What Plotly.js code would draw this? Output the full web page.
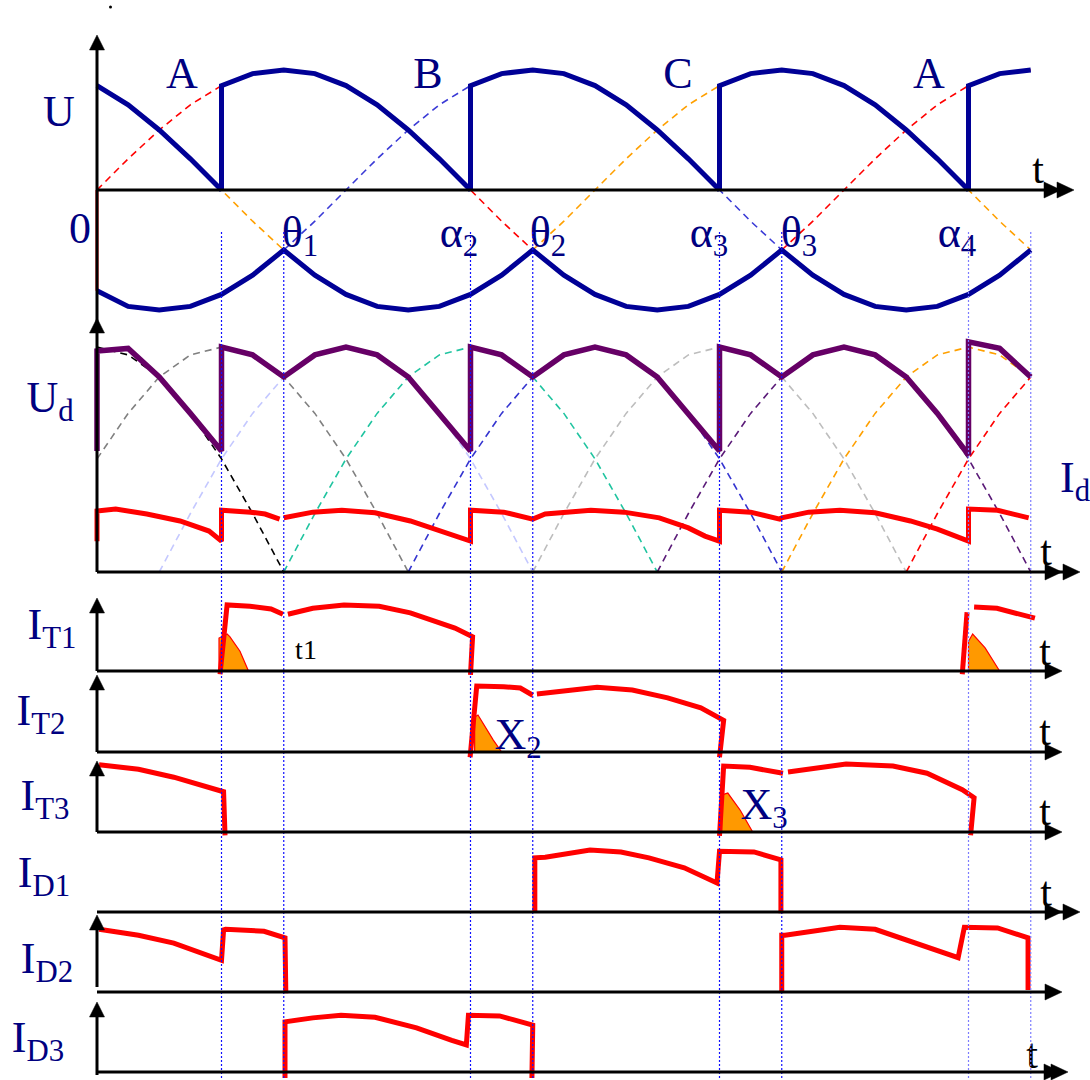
<!DOCTYPE html>
<html><head><meta charset="utf-8">
<script src="https://cdn.plot.ly/plotly-3.0.1.min.js"></script>
<style>html,body{margin:0;padding:0;background:#fff}#chart{width:1090px;height:1080px}</style>
</head><body><div id="chart"></div>
<script>
// ================= DATA (angle in electrical degrees) =================
// firing / natural-commutation instants marked by dotted guides
const eventDeg = [60, 90, 180, 210, 300, 330, 420, 450];
const eventLabels = ['', 'θ<sub>1</sub>', 'α<sub>2</sub>', 'θ<sub>2</sub>', 'α<sub>3</sub>', 'θ<sub>3</sub>', 'α<sub>4</sub>', ''];
const phaseLabels = ['A', 'B', 'C', 'A'];
const panelLabels = ['U', 'U<sub>d</sub>', 'I<sub>d</sub>', 'I<sub>T1</sub>', 'I<sub>T2</sub>', 'I<sub>T3</sub>', 'I<sub>D1</sub>', 'I<sub>D2</sub>', 'I<sub>D3</sub>'];

// ---- panel U : phase voltages (unit = phase peak) ----
const phaseADeg = [0,15,30,45,60,75,90,105,120,135,150,165,180,195,210,null,330,345,360,375,390,405,420,435,450];
const phaseAVal = [0,0.26,0.5,0.71,0.87,0.97,1,0.97,0.87,0.71,0.5,0.26,0,-0.26,-0.5,null,-0.5,-0.26,0,0.26,0.5,0.71,0.87,0.97,1];
const phaseBDeg = [90,105,120,135,150,165,180,195,210,225,240,255,270,285,300,315,330];
const phaseBVal = [-0.5,-0.26,0,0.26,0.5,0.71,0.87,0.97,1,0.97,0.87,0.71,0.5,0.26,0,-0.26,-0.5];
const phaseCDeg = [0,15,30,45,60,75,90,null,210,225,240,255,270,285,300,315,330,345,360,375,390,405,420,435,450];
const phaseCVal = [0.87,0.71,0.5,0.26,0,-0.26,-0.5,null,-0.5,-0.26,0,0.26,0.5,0.71,0.87,0.97,1,0.97,0.87,0.71,0.5,0.26,0,-0.26,-0.5];
const uTopDeg = [0,15,30,45,60,60,75,90,105,120,135,150,165,180,180,195,210,225,240,255,270,285,300,300,315,330,345,360,375,390,405,420,420,435,450];
const uTopVal = [0.87,0.71,0.5,0.26,0,0.87,0.97,1,0.97,0.87,0.71,0.5,0.26,0,0.87,0.97,1,0.97,0.87,0.71,0.5,0.26,0,0.87,0.97,1,0.97,0.87,0.71,0.5,0.26,0,0.87,0.97,1];
const uBotDeg = [0,15,30,45,60,75,90,105,120,135,150,165,180,195,210,225,240,255,270,285,300,315,330,345,360,375,390,405,420,435,450];
const uBotVal = [-0.84,-0.97,-1,-0.97,-0.87,-0.71,-0.5,-0.71,-0.87,-0.97,-1,-0.97,-0.87,-0.71,-0.5,-0.71,-0.87,-0.97,-1,-0.97,-0.87,-0.71,-0.5,-0.71,-0.87,-0.97,-1,-0.97,-0.87,-0.71,-0.5];
const startDeg = [0, 0];
const startVal = [0, -0.84];

// ---- panel Ud : line voltages and rectified output (unit = phase peak) ----
const udDeg = [0,0,15,30,45,60,60,75,90,105,120,135,150,165,180,180,195,210,225,240,255,270,285,300,300,315,330,345,360,375,390,405,420,420,435,450];
const udVal = [0.93,1.70,1.72,1.5,1.22,0.93,1.73,1.67,1.5,1.67,1.73,1.67,1.5,1.22,0.93,1.73,1.67,1.5,1.67,1.73,1.67,1.5,1.22,0.93,1.73,1.67,1.5,1.67,1.73,1.67,1.5,1.22,0.9,1.77,1.72,1.5];
const lineArcVal = [0,0.45,0.87,1.22,1.5,1.67,1.73,1.67,1.5,1.22,0.87,0.45,0];
const lineAB1Deg = [0,15,30,45,60,75,90,105,120,135,150];
const lineAB1Val = [0.87,1.22,1.5,1.67,1.73,1.67,1.5,1.22,0.87,0.45,0];
const lineCB1Deg = [0,15,30,45,60,75,90];
const lineCB1Val = [1.73,1.67,1.5,1.22,0.87,0.45,0];
const lineAC1Deg = [30,45,60,75,90,105,120,135,150,165,180,195,210];
const lineBCDeg  = [90,105,120,135,150,165,180,195,210,225,240,255,270];
const lineBADeg  = [150,165,180,195,210,225,240,255,270,285,300,315,330];
const lineCADeg  = [210,225,240,255,270,285,300,315,330,345,360,375,390];
const lineCB2Deg = [270,285,300,315,330,345,360,375,390,405,420,435,450];
const lineAB2Deg = [330,345,360,375,390,405,420,435,450];
const lineAB2Val = [0,0.45,0.87,1.22,1.5,1.67,1.73,1.67,1.5];
const lineAC2Deg = [390,405,420,435,450];
const lineAC2Val = [0,0.45,0.87,1.22,1.5];

// ---- load current Id (unit = its peak) ----
const idDeg = [0,0,9,24,40,54,60,60,74,81,88,null,90,104,118,134,151,168,180,180,196,210,216,238,254,271,285,293,300,300,315,329,330,343,358,375,392,405,414,420,420,434,449];
const idVal = [0.49,0.97,1.0,0.92,0.81,0.65,0.49,0.98,0.95,0.92,0.84,null,0.86,0.95,0.98,0.94,0.81,0.62,0.49,0.98,0.95,0.84,0.92,0.98,0.95,0.86,0.70,0.57,0.49,0.98,0.95,0.84,0.86,0.95,0.98,0.94,0.81,0.68,0.57,0.49,1.0,0.98,0.86];

// ---- device currents ----
const it1Deg = [59.3,62.7,73.7,83.9,89.6,null,92,104,119,136,151,166,172.5,181,180,null,417,419.3,null,422.7,433.7,452];
const it1Val = [-0.05,1.0,0.98,0.94,0.86,null,0.86,0.95,1.0,0.98,0.88,0.73,0.65,0.52,-0.06,null,-0.05,0.89,null,0.97,0.95,0.8];
const it1FillADeg = [58.8,58.8,62.7,64,68.9,73];
const it1FillAVal = [0,0.5,0.56,0.52,0.3,0];
const it1FillBDeg = [420,420,422,428,435];
const it1FillBVal = [0,0.45,0.56,0.35,0];
const it2Deg = [179.8,183,196,204,210,null,212,241,258,275,291,300,302,300];
const it2Val = [-0.08,1.0,0.99,0.97,0.86,null,0.88,0.98,0.94,0.82,0.67,0.53,0.48,-0.08];
const it2FillDeg = [182,182,183.6,191,195];
const it2FillVal = [0,0.53,0.56,0.18,0];
const it3Deg = [1,20,37,50.6,61,61.7,null,300,302,314.7,330.6,null,333,361,383.6,400,417,422.7,421];
const it3Val = [1.02,0.95,0.83,0.71,0.61,-0.05,null,-0.06,1.0,0.98,0.89,null,0.91,1.03,1.0,0.89,0.64,0.52,-0.05];
const it3FillDeg = [301,301,304,310,316];
const it3FillVal = [0,0.56,0.59,0.33,0];
const id1Deg = [211,211,216,237.6,252.5,266,283,293,298.8,300,300.7,316.6,329.6,329.6];
const id1Val = [0,0.82,0.83,0.94,0.91,0.82,0.67,0.53,0.44,0.92,0.92,0.91,0.79,-0.02];
const id2Deg = [1,20,37,60,61,62,80.5,90.6,91,null,330,330,331.6,358,375,400,415,418,419,434,448.7,448.7];
const id2Val = [0.95,0.86,0.74,0.48,0.94,0.95,0.92,0.82,-0.02,null,0,0.86,0.86,0.98,0.95,0.68,0.52,0.98,0.98,0.97,0.82,0.03];
const id3Deg = [90.6,90.6,104,117.6,134,154,171,178,179,181,194,210,209.6];
const id3Val = [-0.09,0.76,0.82,0.86,0.83,0.67,0.48,0.41,0.86,0.86,0.85,0.71,-0.09];

// ================= LAYOUT GEOMETRY =================
const W = 1090, H = 1080;
const X0 = 97, PXDEG = 2.075;           // x pixel of 0 deg, pixels per degree
const px = p => p / W, py = p => 1 - p / H;
// panel baselines (px) and pixels per unit
const scales = {
  y:  {base:190, ppu:120}, y2: {base:572, ppu:130}, y3: {base:572, ppu:63},
  y4: {base:671, ppu:66},  y5: {base:752, ppu:66},  y6: {base:832, ppu:66},
  y7: {base:912, ppu:66},  y8: {base:992, ppu:66},  y9: {base:1072, ppu:66}
};

const NAVY = '#000080', BLUE = '#000096', PURPLE = '#660066', RED = '#ff0000', ORANGE = '#ff9900';
const DASH = '7px,5px';
const FONT = 'Liberation Serif';

function tr(x, y, ax, color, width, dash) {
  return {type:'scatter', mode:'lines', x:x, y:y, xaxis:'x', yaxis:ax, connectgaps:false,
          hoverinfo:'skip', showlegend:false, line:{color:color, width:width, dash:dash||'solid'}};
}
function fillTr(x, y, ax) {
  return {type:'scatter', mode:'lines', x:x, y:y, xaxis:'x', yaxis:ax, fill:'toself',
          fillcolor:ORANGE, hoverinfo:'skip', showlegend:false, line:{color:RED, width:1.2}};
}

const traces = [
  // U panel
  tr(phaseADeg, phaseAVal, 'y', '#ff0000', 1.6, DASH),
  tr(phaseBDeg, phaseBVal, 'y', '#3a3ad6', 1.6, DASH),
  tr(phaseCDeg, phaseCVal, 'y', '#ffa000', 1.6, DASH),
  tr(startDeg, startVal, 'y', RED, 3),
  tr(uTopDeg, uTopVal, 'y', BLUE, 5),
  tr(uBotDeg, uBotVal, 'y', BLUE, 5),
  // Ud panel line voltages
  tr(lineAB1Deg, lineAB1Val, 'y2', '#808080', 1.6, DASH),
  tr(lineCB1Deg, lineCB1Val, 'y2', '#000000', 1.6, DASH),
  tr(lineAC1Deg, lineArcVal, 'y2', '#c4c8ff', 1.6, DASH),
  tr(lineBCDeg,  lineArcVal, 'y2', '#20c4a0', 1.6, DASH),
  tr(lineBADeg,  lineArcVal, 'y2', '#3434d0', 1.6, DASH),
  tr(lineCADeg,  lineArcVal, 'y2', '#bdbdbd', 1.6, DASH),
  tr(lineCB2Deg, lineArcVal, 'y2', '#5a1a78', 1.6, DASH),
  tr(lineAB2Deg, lineAB2Val, 'y2', '#ffa000', 1.6, DASH),
  tr(lineAC2Deg, lineAC2Val, 'y2', '#ff0000', 1.6, DASH),
  tr(udDeg, udVal, 'y2', PURPLE, 5.5),
  tr(idDeg, idVal, 'y3', RED, 5),
  // device currents
  fillTr(it1FillADeg, it1FillAVal, 'y4'),
  fillTr(it1FillBDeg, it1FillBVal, 'y4'),
  fillTr(it2FillDeg, it2FillVal, 'y5'),
  fillTr(it3FillDeg, it3FillVal, 'y6'),
  tr(it1Deg, it1Val, 'y4', RED, 5),
  tr(it2Deg, it2Val, 'y5', RED, 5),
  tr(it3Deg, it3Val, 'y6', RED, 5),
  tr(id1Deg, id1Val, 'y7', RED, 5),
  tr(id2Deg, id2Val, 'y8', RED, 5),
  tr(id3Deg, id3Val, 'y9', RED, 5)
];

// ---- axes drawn as shapes ----
const shapes = [];
function hline(x0, x1, y) { shapes.push({type:'line', xref:'paper', yref:'paper', x0:px(x0), x1:px(x1), y0:py(y), y1:py(y), line:{color:'#000', width:3}}); }
function vline(x, y0, y1) { shapes.push({type:'line', xref:'paper', yref:'paper', x0:px(x), x1:px(x), y0:py(y0), y1:py(y1), line:{color:'#000', width:3}}); }
function upArrow(x, tip) {
  shapes.push({type:'path', xref:'paper', yref:'paper', fillcolor:'#000', line:{color:'#000', width:0.5},
    path:`M ${px(x-7.5)} ${py(tip+15)} L ${px(x)} ${py(tip)} L ${px(x+7.5)} ${py(tip+15)} Z`});
}
function rightArrow(tip, y) {
  shapes.push({type:'path', xref:'paper', yref:'paper', fillcolor:'#000', line:{color:'#000', width:0.5},
    path:`M ${px(tip-17)} ${py(y-8)} L ${px(tip)} ${py(y)} L ${px(tip-17)} ${py(y+8)} Z`});
}
// vertical dotted guides
eventDeg.forEach((d, i) => {
  shapes.push({type:'line', xref:'x', yref:'paper', x0:d, x1:d, y0:py(1078), y1:py(230),
    line:{color: i >= 6 ? '#7c7cff' : '#1010ff', width: 1.2, dash:'2px,2px'}});
});
// U + Ud
vline(X0, 42, 572); upArrow(X0, 35); upArrow(X0, 318);
hline(X0, 1060, 190); rightArrow(1061, 190); rightArrow(1074, 190);
hline(X0, 1070, 572); rightArrow(1062, 572); rightArrow(1080, 572);
// IT1..IT3
vline(X0, 608, 671); upArrow(X0, 598); hline(X0, 1050, 671); rightArrow(1062, 671);
vline(X0, 685, 752); upArrow(X0, 675); hline(X0, 1050, 752); rightArrow(1062, 752);
vline(X0, 771, 832); upArrow(X0, 761); hline(X0, 1050, 832); rightArrow(1062, 832);
// ID1..ID3
hline(X0, 1070, 912); rightArrow(1062, 912); rightArrow(1080, 912);
vline(X0, 925, 987); upArrow(X0, 915); hline(X0, 1050, 992); rightArrow(1062, 992);
vline(X0, 1012, 1075); upArrow(X0, 1002); hline(X0, 1060, 1072); rightArrow(1061, 1072); rightArrow(1068, 1072);
// small dot at top
shapes.push({type:'circle', xref:'paper', yref:'paper', x0:px(109), x1:px(112), y0:py(5.5), y1:py(8.5), fillcolor:'#000', line:{width:0}});

// ---- texts: one text trace on a pixel overlay (x2 / y10) ----
const labText = [], labX = [], labY = [], labSize = [], labColor = [];
function lab(text, x, y, size, color) {
  labText.push(text); labX.push(x); labY.push(y); labSize.push(size); labColor.push(color || NAVY);
}
const panelLabelPos = [[59,115],[50,401],[1075,481],[52,628],[41,714],[45,799],[44,876],[47,962],[38,1041]];
panelLabels.forEach((t, i) => lab(t, panelLabelPos[i][0], panelLabelPos[i][1], 44));
lab('0', 80, 232, 44);
const phaseLabelX = [182, 428, 678, 929];
phaseLabels.forEach((t, i) => lab(t, phaseLabelX[i], 77, 44));
const eventLabelX = [0, 300, 459, 548, 709, 799, 957, 0];
eventLabels.forEach((t, i) => { if (t) lab(t, eventLabelX[i], 236, 44); });
lab('X<sub>2</sub>', 518, 738, 44);
lab('X<sub>3</sub>', 764, 808, 44);
lab('t1', 306, 652, 28, '#000');
const tPos = [[1038,172],[1046,554],[1045,654],[1045,734],[1045,814],[1046,895],[1032,1057]];
tPos.forEach(p => lab('t', p[0], p[1], 42, '#000'));

traces.push({type:'scatter', mode:'text', x:labX, y:labY, text:labText, xaxis:'x2', yaxis:'y10',
  textposition:'middle center', cliponaxis:false, hoverinfo:'skip', showlegend:false,
  textfont:{family:FONT, size:labSize, color:labColor}});

// ---- figure ----
const layout = {
  width: W, height: H, margin:{l:0, r:0, t:0, b:0}, paper_bgcolor:'#fff', plot_bgcolor:'rgba(0,0,0,0)',
  showlegend:false, font:{family:FONT, size:20, color:NAVY},
  xaxis:{range:[-X0/PXDEG, (W - X0)/PXDEG], visible:false, fixedrange:true},
  xaxis2:{range:[0, W], overlaying:'x', visible:false, fixedrange:true},
  shapes: shapes
};
Object.keys(scales).forEach((k, i) => {
  const s = scales[k];
  const name = i === 0 ? 'yaxis' : 'yaxis' + (i + 1);
  layout[name] = {domain:[0,1], range:[(s.base - H)/s.ppu, s.base/s.ppu], visible:false, fixedrange:true,
                  showgrid:false, zeroline:false};
  if (i > 0) layout[name].overlaying = 'y';
});
layout.yaxis10 = {range:[H, 0], overlaying:'y', visible:false, fixedrange:true, showgrid:false, zeroline:false};

Plotly.newPlot('chart', traces, layout, {displayModeBar:false, responsive:false});
</script>
</body></html>
